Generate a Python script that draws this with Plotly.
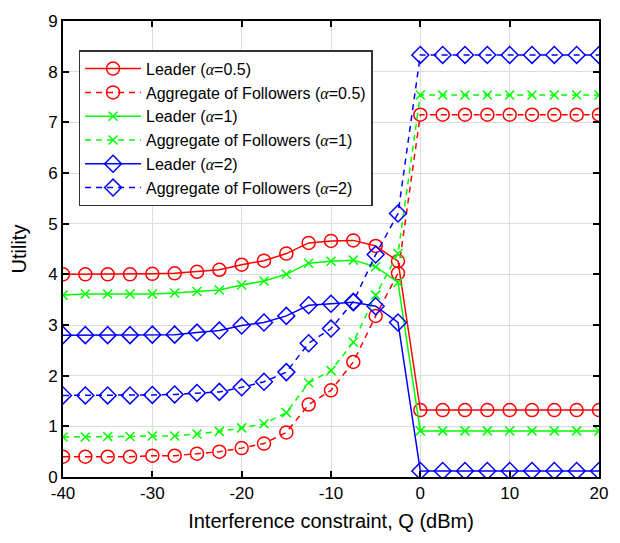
import plotly.graph_objects as go

Q = [-40, -37.5, -35, -32.5, -30, -27.5, -25, -22.5, -20, -17.5, -15, -12.5, -10, -7.5, -5, -2.5,
     0, 2.5, 5, 7.5, 10, 12.5, 15, 17.5, 20]

leader_05 = [4.00, 4.00, 4.00, 4.00, 4.01, 4.02, 4.05, 4.09, 4.19, 4.27, 4.41, 4.62, 4.66, 4.67, 4.56, 4.26,
             1.32, 1.32, 1.32, 1.32, 1.32, 1.32, 1.32, 1.32, 1.32]
follow_05 = [0.40, 0.40, 0.40, 0.40, 0.42, 0.42, 0.46, 0.50, 0.57, 0.66, 0.88, 1.43, 1.71, 2.27, 3.18, 4.02,
             7.15, 7.15, 7.15, 7.15, 7.15, 7.15, 7.15, 7.15, 7.15]
leader_1 = [3.59, 3.61, 3.61, 3.61, 3.61, 3.63, 3.66, 3.69, 3.79, 3.87, 4.00, 4.22, 4.26, 4.28, 4.15, 3.84,
            0.91, 0.91, 0.91, 0.91, 0.91, 0.91, 0.91, 0.91, 0.91]
follow_1 = [0.79, 0.79, 0.80, 0.80, 0.81, 0.81, 0.85, 0.90, 0.97, 1.05, 1.27, 1.86, 2.10, 2.66, 3.59, 4.41,
            7.54, 7.54, 7.54, 7.54, 7.54, 7.54, 7.54, 7.54, 7.54]
leader_2 = [2.80, 2.80, 2.80, 2.80, 2.81, 2.81, 2.85, 2.89, 2.99, 3.05, 3.18, 3.39, 3.42, 3.45, 3.37, 3.05,
            0.12, 0.12, 0.12, 0.12, 0.12, 0.12, 0.12, 0.12, 0.12]
follow_2 = [1.61, 1.61, 1.61, 1.61, 1.62, 1.63, 1.66, 1.68, 1.77, 1.88, 2.07, 2.64, 2.93, 3.46, 4.39, 5.20,
            8.33, 8.33, 8.33, 8.33, 8.33, 8.33, 8.33, 8.33, 8.33]

x_ticks = [-40, -30, -20, -10, 0, 10, 20]
x_tick_labels = ["-40", "-30", "-20", "-10", "0", "10", "20"]

A = '<span style="font-family:\'Liberation Serif\';font-style:italic">α</span>'
names = [f"Leader ({A}=0.5)", f"Aggregate of Followers ({A}=0.5)",
         f"Leader ({A}=1)", f"Aggregate of Followers ({A}=1)",
         f"Leader ({A}=2)", f"Aggregate of Followers ({A}=2)"]
series = [leader_05, follow_05, leader_1, follow_1, leader_2, follow_2]
colors = ["#ff0000", "#ff0000", "#00ff00", "#00ff00", "#0000ff", "#0000ff"]
symbols = ["circle-open", "circle-open", "x-thin-open", "x-thin-open", "diamond-open", "diamond-open"]
sizes = [13, 13, 9, 9, 13, 13]
dashes = ["solid", "6px,5px", "solid", "6px,5px", "solid", "6px,5px"]

fig = go.Figure()
for n, s, c, sym, sz, d in zip(names, series, colors, symbols, sizes, dashes):
    fig.add_trace(go.Scatter(
        x=Q, y=s, mode="lines+markers", name=n,
        line=dict(color=c, width=1.5, dash=d),
        marker=dict(symbol=sym, size=sz, color=c, line=dict(color=c, width=1.5)),
    ))

axis_common = dict(
    showline=True, linecolor="black", linewidth=2, mirror="ticks",
    ticks="inside", ticklen=6, tickwidth=1.5, tickcolor="black",
    showgrid=True, gridcolor="#dcdcdc", gridwidth=1, zeroline=False,
    tickfont=dict(family="Liberation Sans, Arial", size=17, color="black"),
)

fig.update_layout(
    width=620, height=543,
    margin=dict(l=63, r=13, t=16, b=66),
    paper_bgcolor="white", plot_bgcolor="white",
    font=dict(family="Liberation Sans, Arial", color="black"),
    xaxis=dict(range=[-40, 20], tickvals=x_ticks, ticktext=x_tick_labels,
               title=dict(text="Interference constraint, Q (dBm)", font=dict(size=20), standoff=12),
               **axis_common),
    yaxis=dict(range=[0, 9], dtick=1, tick0=0,
               title=dict(text="Utility", font=dict(size=20), standoff=16),
               **axis_common),
    legend=dict(x=0.029, y=0.936, xanchor="left", yanchor="top",
                bgcolor="white", bordercolor="#333333", borderwidth=1.5,
                font=dict(family="Liberation Sans, Arial", size=16, color="black"),
                itemwidth=56, tracegroupgap=0),
    showlegend=True,
)

fig.write_html("out.html")
